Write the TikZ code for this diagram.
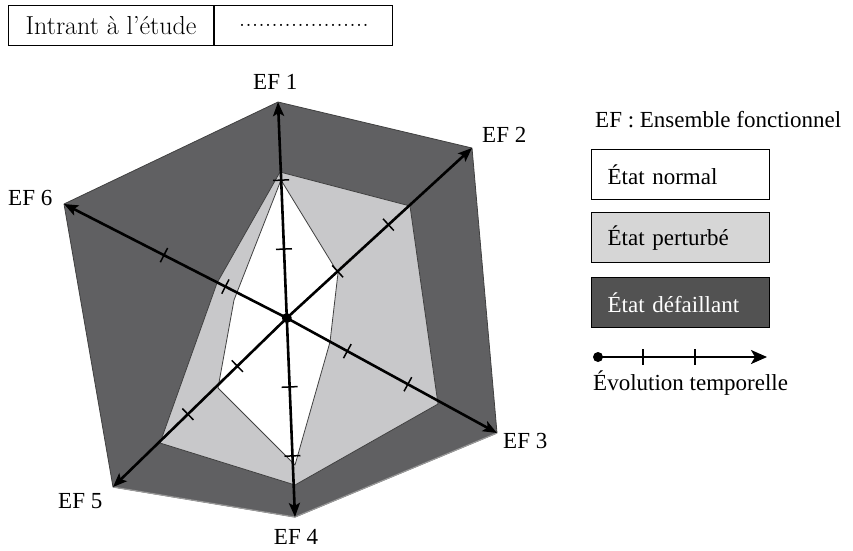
\documentclass[tikz,border=0pt]{standalone}
\usepackage{fontspec}
\setmainfont{Liberation Serif}
\newfontfamily\topfont{Latin Modern Roman}
\usetikzlibrary{arrows.meta,calc}
\definecolor{darkfill}{RGB}{96,96,98}
\definecolor{lightfill}{RGB}{200,200,202}
\definecolor{legdark}{RGB}{82,82,82}
\definecolor{leglight}{RGB}{214,214,214}
\begin{document}
\begin{tikzpicture}[x=1pt,y=-1pt,
  lbl/.style={font=\fontsize{23}{27}\selectfont, inner sep=0pt},
  axisarrow/.style={line width=2.6pt, -{Stealth[length=14pt,width=11pt,inset=3pt]}},
  tickmark/.style={line width=1.5pt},
  polyline/.style={draw=black!75, line width=0.8pt, line join=round},
  legbox/.style={draw=black, line width=1.2pt, minimum width=178pt, minimum height=50pt,
    anchor=north west, inner xsep=16pt, inner ysep=0pt, text width=146pt, align=left,
    font=\fontsize{23}{27}\selectfont},
  topcell/.style={draw=black, line width=1.2pt, minimum height=40pt, anchor=north west,
    inner sep=0pt, font=\topfont\fontsize{26}{30}\selectfont}]
\useasboundingbox (0,0) rectangle (853,550);

% header table
\node[topcell, minimum width=205pt] (c1) at (8,5) {Intrant à l’étude};
\node[topcell, minimum width=178pt] (c2) at (c1.north east) {....................};

% radar coordinates
\coordinate (O) at (286.8,318);
\coordinate (T1) at (278,102);
\coordinate (T2) at (472,148);
\coordinate (T3) at (497,433);
\coordinate (T4) at (295,517);
\coordinate (T5) at (113,487);
\coordinate (T6) at (64,204);

% polygons
\filldraw[darkfill, polyline] (T1) -- (T2) -- (T3) -- (T4) -- (T5) -- (T6) -- cycle;
\draw[black!40, line width=1.2pt] (T3) -- (T4) -- (T5);
\filldraw[fill=lightfill, polyline] (280,172) -- (410,206) -- (438,404) -- (295,485) -- (160,443) -- (217,283) -- cycle;
\filldraw[fill=white, polyline] (281,180) -- (338,273) -- (330,342) -- (295,465) -- (218,388) -- (234,300) -- cycle;

% axes and ticks
\foreach \t in {1,...,6}{
  \draw[axisarrow] (O) -- (T\t);
  \foreach \d in {69,138}{
    \draw[tickmark] ($($(O)!\d pt!(T\t)$)!8pt!90:(T\t)$) -- ($($(O)!\d pt!(T\t)$)!8pt!-90:(T\t)$);
  }
}
\fill (O) circle (5);

% axis labels
\node[lbl, anchor=base west] (l1) at (253,89) {EF 1};
\node[lbl, anchor=base west] (l2) at (482,142) {EF 2};
\node[lbl, anchor=base west] (l3) at (503,448) {EF 3};
\node[lbl, anchor=base] (l4) at (296,544) {EF 4};
\node[lbl, anchor=base west] (l5) at (58,508) {EF 5};
\node[lbl, anchor=base west] (l6) at (8,205) {EF 6};

% legend
\node[lbl, anchor=base west] (lg) at (595,127) {EF : Ensemble fonctionnel};
\node[legbox, fill=white] (b1) at (591,149) {État normal};
\node[legbox, fill=leglight] (b2) at (591,212) {État perturbé};
\node[legbox, fill=legdark, text=white] (b3) at (591,277) {État défaillant};

\coordinate (L0) at (598,357);
\coordinate (L1) at (767,357);
\draw[line width=2.2pt, -{Stealth[length=16pt,width=14pt,inset=4pt]}] (L0) -- (L1);
\fill (L0) circle (5);
\draw[tickmark, line width=2pt] (643,349) -- (643,365);
\draw[tickmark, line width=2pt] (695,349) -- (695,365);
\node[lbl, anchor=base west] (ev) at (593,390) {Évolution temporelle};
\end{tikzpicture}
\end{document}
